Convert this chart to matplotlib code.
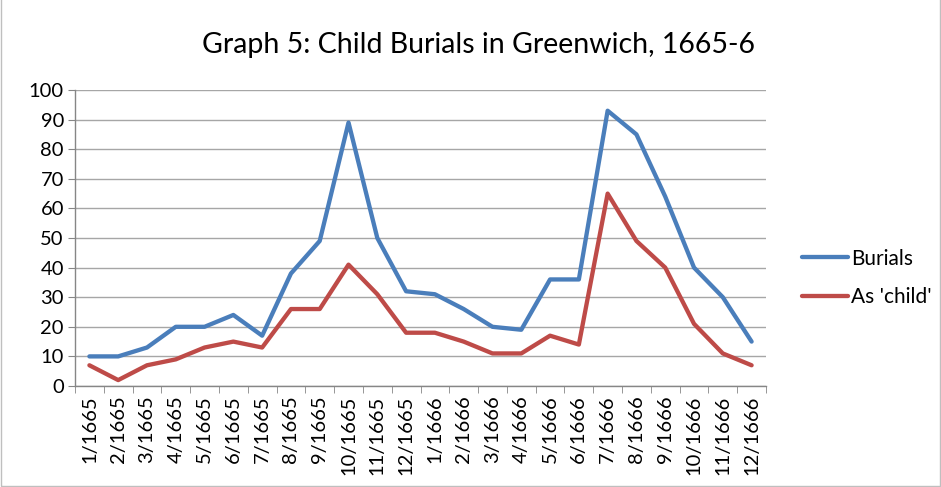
import matplotlib
matplotlib.use("Agg")
import matplotlib.pyplot as plt
from matplotlib.patches import Rectangle
import numpy as np

months = ["1/1665","2/1665","3/1665","4/1665","5/1665","6/1665","7/1665","8/1665",
          "9/1665","10/1665","11/1665","12/1665","1/1666","2/1666","3/1666","4/1666",
          "5/1666","6/1666","7/1666","8/1666","9/1666","10/1666","11/1666","12/1666"]
burials = [10,10,13,20,20,24,17,38,49,89,50,32,31,26,20,19,36,36,93,85,64,40,30,15]
child = [7,2,7,9,13,15,13,26,26,41,31,18,18,15,11,11,17,14,65,49,40,21,11,7]

plt.rcParams['font.family'] = ['Lato', 'DejaVu Sans']

fig = plt.figure(figsize=(9.41, 4.87), dpi=100)
ax = fig.add_axes([75/941, 1-386/487, (766-75)/941, (386-90)/487])

x = np.arange(len(months))
l1, = ax.plot(x, burials, color="#4A7EBB", lw=3.1, label="Burials", solid_capstyle='round')
l2, = ax.plot(x, child, color="#BE4B48", lw=3.1, label="As 'child'", solid_capstyle='round')

ax.set_xlim(-0.5, len(months)-0.5)
ax.set_ylim(0, 100)
ax.set_yticks(range(0, 101, 10))
ax.tick_params(axis='y', labelsize=14.5, length=5, color="#868686", labelcolor="#000000", pad=3)
ax.set_xticks(x)
ax.set_xticklabels(months, rotation=90, fontsize=14.5)
ax.tick_params(axis='x', which='major', length=0, pad=7)
ax.set_xticks(np.arange(-0.5, len(months), 1), minor=True)
ax.tick_params(axis='x', which='minor', length=5, color="#868686")
ax.grid(axis='y', color="#A6A6A6", lw=1.0)
ax.set_axisbelow(True)
for s in ['top', 'right']:
    ax.spines[s].set_visible(False)
for s in ['left', 'bottom']:
    ax.spines[s].set_color("#868686")
    ax.spines[s].set_linewidth(1.0)

fig.text(479/941, 1-45/487, "Graph 5: Child Burials in Greenwich, 1665-6", ha='center', va='center', fontsize=20.5)

fig.legend(handles=[l1, l2], loc='center left', bbox_to_anchor=(783/941, 1-278/487),
           frameon=False, fontsize=15, handlelength=2.2, labelspacing=0.9, handletextpad=0.15)

fig.patches.append(Rectangle((0.001, 0.002), 0.998, 1.2, transform=fig.transFigure,
                             fill=False, edgecolor="#BFBFBF", lw=1))

fig.savefig("out.png", dpi=100)
